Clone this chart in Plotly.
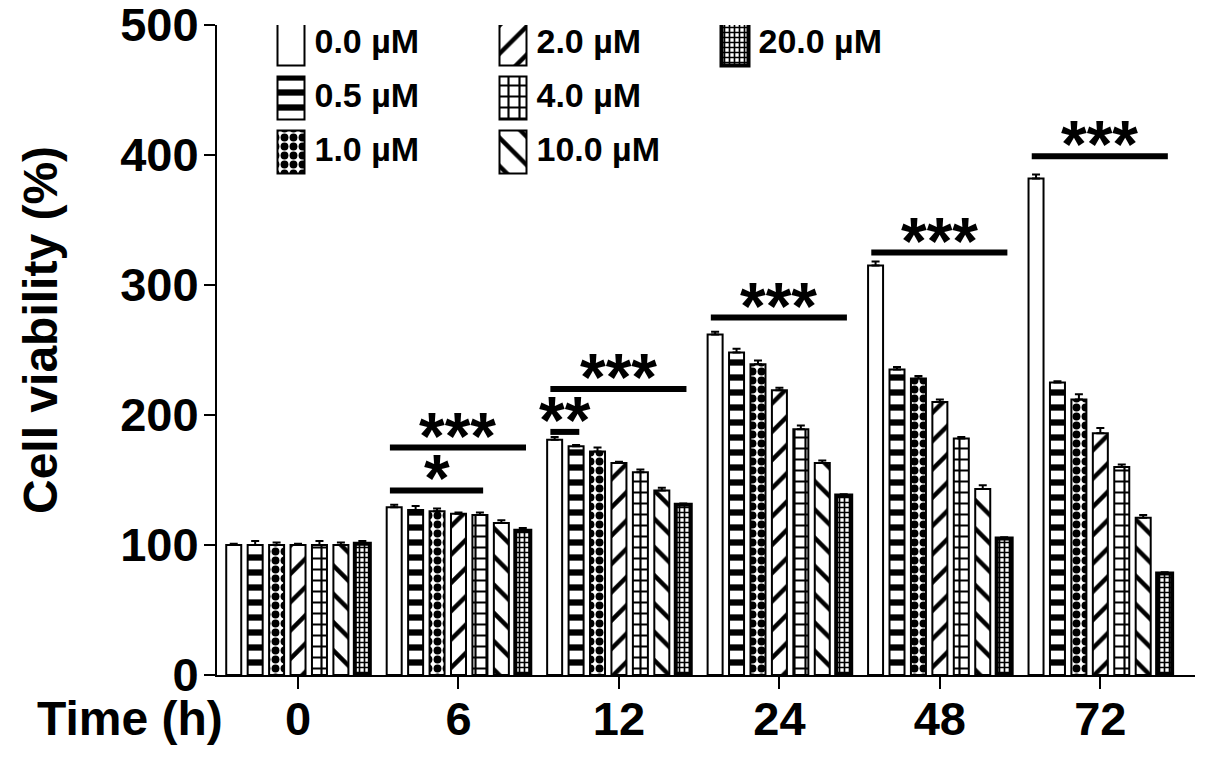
import plotly.graph_objects as go

# time points and doses
times = ["0", "6", "12", "24", "48", "72"]
doses = ["0.0 µM", "0.5 µM", "1.0 µM", "2.0 µM", "4.0 µM", "10.0 µM", "20.0 µM"]

# cell viability (%) per dose, one value per time point
via_00 = [100, 129, 181, 262, 315, 382]
via_05 = [100, 127, 176, 248, 235, 225]
via_10 = [100, 126, 172, 239, 228, 212]
via_20 = [100, 124, 163, 219, 210, 186]
via_40 = [100, 123, 156, 189, 182, 160]
via_100 = [100, 117, 142, 163, 143, 121]
via_200 = [101, 111, 131, 138, 105, 78]

# upper error bars
err_00 = [1, 2, 2, 2, 3, 3]
err_05 = [3, 3, 1, 3, 2, 1]
err_10 = [2, 2, 3, 3, 2, 4]
err_20 = [1, 1, 1, 2, 2, 4]
err_40 = [3, 2, 2, 3, 1, 2]
err_100 = [2, 2, 2, 2, 3, 2]
err_200 = [2, 2, 1, 1, 1, 1]

# significance brackets: time index, first dose, last dose, height, label
sig_time = [1, 1, 2, 2, 3, 4, 5]
sig_from = [0, 0, 0, 0, 0, 0, 0]
sig_to = [6, 4, 6, 1, 6, 6, 6]
sig_y = [175, 142, 220, 187, 275, 325, 399]
sig_text = ["***", "*", "***", "**", "***", "***", "***"]

# legend grid (column, row) for each dose
legend_col = [0, 0, 0, 1, 1, 1, 2]
legend_row = [0, 1, 2, 0, 1, 2, 0]

viability = [via_00, via_05, via_10, via_20, via_40, via_100, via_200]
errors = [err_00, err_05, err_10, err_20, err_40, err_100, err_200]

shapes_ = ["", "-", ".", "/", "+", "\\", "+"]
pat_size = [10, 15, 9, 20, 11, 20, 5]
pat_solid = [0.3, 0.42, 0.6, 0.22, 0.35, 0.22, 0.55]
line_w = [2, 2, 2, 2, 2, 2, 4]

FONT = "Liberation Sans, Arial, sans-serif"
BARGAP = 0.065
GROUPGAP = 0.3

# the page puts the figure 8 px in from the corner
OFF = 8
W, H = 1205 - OFF, 758 - OFF
L, R, T, B = 217 - OFF, 10, 25 - OFF, 83
PW, PH = W - L - R, H - T - B


def px_x(p):
    # reference pixel column -> paper x
    return (p - OFF - L) / PW


def px_y(p):
    # reference pixel row -> paper y
    return (H - B - (p - OFF)) / PH


def bar_marker(k):
    return dict(color="white",
                line=dict(color="black", width=line_w[k]),
                pattern=dict(shape=shapes_[k], fgcolor="black", bgcolor="white",
                             fgopacity=1, size=pat_size[k], solidity=pat_solid[k],
                             fillmode="overlay"))


fig = go.Figure()

xs = list(range(len(times)))
for k, name in enumerate(doses):
    fig.add_trace(go.Bar(
        x=xs, y=viability[k], name=name, showlegend=False,
        marker=bar_marker(k),
        error_y=dict(type="data", symmetric=False, array=errors[k],
                     arrayminus=[0] * len(times), color="black", thickness=2, width=4),
    ))

# hand made legend on an overlaid axis pair
col_px = 222
row_px = 54
sw_w = 27 / col_px
sw_h = 43 / row_px
for k, name in enumerate(doses):
    fig.add_trace(go.Bar(
        x=[legend_col[k]], y=[sw_h], base=[legend_row[k] - sw_h / 2],
        width=sw_w, offset=-sw_w / 2, xaxis="x2", yaxis="y2", showlegend=False,
        hoverinfo="skip", marker=bar_marker(k),
    ))
fig.add_trace(go.Scatter(
    x=[c + sw_w / 2 + 0.045 for c in legend_col], y=legend_row, text=doses,
    mode="text", textposition="middle right", xaxis="x2", yaxis="y2",
    showlegend=False, hoverinfo="skip",
    textfont=dict(family=FONT, size=34, color="black", weight="bold"),
))

# significance bars
group_w = 1 - BARGAP
slot = group_w / len(doses)


def bar_center(t, k):
    return t - group_w / 2 + slot * (k + 0.5)


for t, a, b, y, txt in zip(sig_time, sig_from, sig_to, sig_y, sig_text):
    x0 = bar_center(t, a) - 0.2 * slot
    x1 = bar_center(t, b) + 0.15 * slot
    fig.add_shape(type="line", x0=x0, x1=x1, y0=y, y1=y,
                  line=dict(color="black", width=6))
    fig.add_annotation(x=(x0 + x1) / 2, y=y, text=txt, showarrow=False,
                       yanchor="bottom", yshift=-27,
                       font=dict(family=FONT, size=66, color="black", weight="bold"))

# axis titles
fig.add_annotation(text="Cell viability (%)", textangle=-90, xref="paper", yref="paper",
                   x=px_x(40), y=px_y(330), showarrow=False,
                   xanchor="center", yanchor="middle",
                   font=dict(family=FONT, size=48, color="black", weight="bold"))
fig.add_annotation(text="Time (h)", xref="paper", yref="paper",
                   x=px_x(130), y=px_y(718), showarrow=False,
                   xanchor="center", yanchor="middle",
                   font=dict(family=FONT, size=48, color="black", weight="bold"))

tickfont = dict(family=FONT, size=47, color="black", weight="bold")
fig.update_layout(
    width=W, height=H,
    margin=dict(l=L, r=R, t=T, b=B, autoexpand=False),
    paper_bgcolor="white", plot_bgcolor="white",
    barmode="group", bargap=BARGAP, bargroupgap=GROUPGAP,
    xaxis=dict(tickvals=xs, ticktext=times, range=[-0.505, 5.59],
               showgrid=False, zeroline=False, showline=True, linecolor="black", linewidth=2,
               ticks="outside", ticklen=12, tickwidth=2, tickcolor="black",
               tickfont=tickfont, ticklabelstandoff=-10, ticklabeloverflow="allow",
               fixedrange=True),
    yaxis=dict(range=[0, 500], dtick=100, showgrid=False, zeroline=False,
               showline=True, linecolor="black", linewidth=2,
               ticks="outside", ticklen=11, tickwidth=2, tickcolor="black",
               tickfont=tickfont, ticklabelstandoff=-4, ticklabeloverflow="allow"),
    xaxis2=dict(overlaying="x", visible=False,
                range=[-(291 - 217) / col_px, -(291 - 217) / col_px + PW / col_px]),
    yaxis2=dict(overlaying="y", visible=False,
                range=[-(44 - 25) / row_px + PH / row_px, -(44 - 25) / row_px]),
    showlegend=False,
)

fig.write_html("out.html")
